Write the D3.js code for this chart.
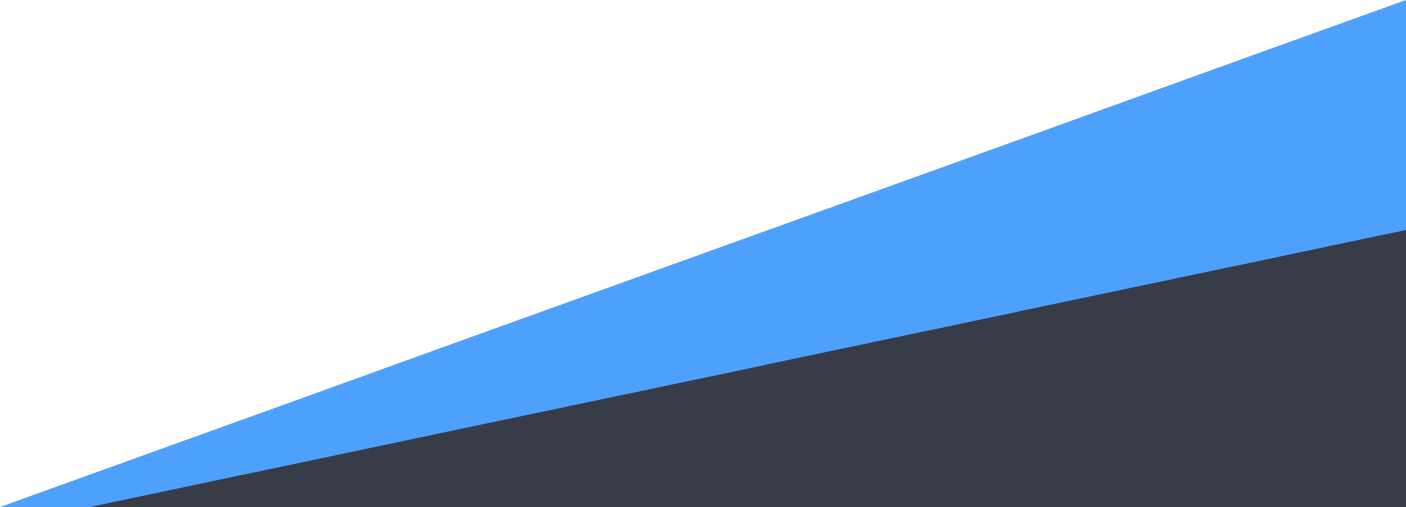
<!DOCTYPE html>
<html><head><meta charset="utf-8">
<script src="https://cdn.jsdelivr.net/npm/d3@7"></script>
<style>html,body{margin:0;padding:0;background:#fff;overflow:hidden}</style>
</head><body>
<svg id="c" width="1406" height="507"></svg>
<script>
// Data: two rising wedges (x position, height value)
const blueX = [0, 1406];
const blueY = [0, 507];
const darkX = [90, 1406];
const darkY = [0, 277];
const colors = ["#4DA1FC", "#383C47"];

const W = 1406, H = 507;
const x = d3.scaleLinear().domain([0, 1406]).range([0, W]);
const y = d3.scaleLinear().domain([0, 507]).range([H, 0]);
const area = d3.area().x(d => x(d[0])).y0(y(0)).y1(d => y(d[1]));
const svg = d3.select("#c");
[[blueX, blueY], [darkX, darkY]].forEach((s, i) => {
  svg.append("path").datum(s[0].map((v, j) => [v, s[1][j]]))
    .attr("d", area).attr("fill", colors[i]);
});
</script>
</body></html>
